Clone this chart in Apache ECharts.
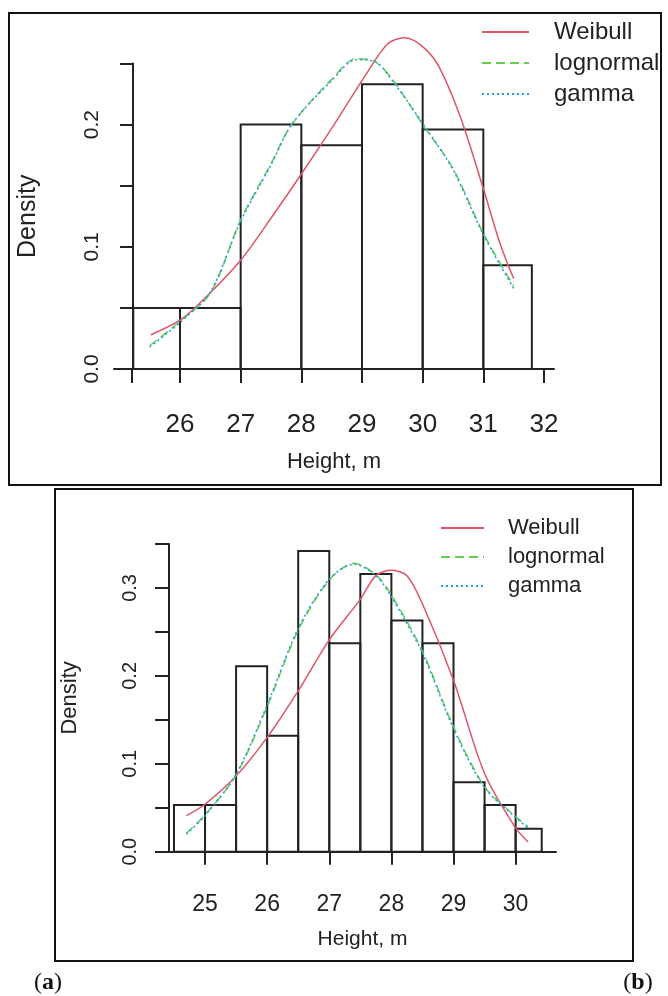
<!DOCTYPE html>
<html>
<head>
<meta charset="utf-8">
<script src="https://cdn.jsdelivr.net/npm/echarts@6/dist/echarts.min.js"></script>
<style>
  html, body { margin: 0; padding: 0; background: #fff; }
  #chart { width: 668px; height: 996px; }
</style>
</head>
<body>
<div id="chart"></div>
<script>
// ---- panel (a) data ----
const breaksA = [25.23, 26, 27, 28, 29, 30, 31, 31.8];
const densA = [0.05, 0.05, 0.2, 0.183, 0.233, 0.196, 0.085];
const xTicksA = [25.2, 26, 27, 28, 29, 30, 31, 32];
const xLabelsA = [26, 27, 28, 29, 30, 31, 32];

const weibullXA = [25.52, 26.0, 26.35, 27.0, 27.55, 28.02, 28.54, 29.04, 29.42, 29.7, 29.97, 30.25, 30.63, 31.01, 31.26, 31.5];
const weibullYA = [0.028, 0.04, 0.055, 0.089, 0.127, 0.161, 0.2, 0.239, 0.266, 0.271, 0.265, 0.249, 0.205, 0.146, 0.105, 0.074];
const lognormXA = [25.5, 26, 26.5, 27, 27.5, 27.84, 28.5, 28.9, 29.2, 29.5, 30, 30.5, 31, 31.5];
const lognormYA = [0.019, 0.039, 0.062, 0.122, 0.168, 0.2, 0.237, 0.254, 0.252, 0.237, 0.2, 0.164, 0.111, 0.068];
const gammaYA   = [0.018, 0.038, 0.063, 0.121, 0.167, 0.2, 0.236, 0.253, 0.252, 0.236, 0.201, 0.163, 0.11, 0.066];

// ---- panel (b) data ----
const breaksB = [24.5, 25, 25.5, 26, 26.5, 27, 27.5, 28, 28.5, 29, 29.5, 30, 30.42];
const densB = [0.053, 0.053, 0.211, 0.132, 0.342, 0.237, 0.316, 0.263, 0.237, 0.079, 0.053, 0.026];
const xLabelsB = [25, 26, 27, 28, 29, 30];

const weibullXB = [24.7, 25, 25.5, 26, 26.5, 27, 27.5, 27.75, 28, 28.25, 28.5, 29, 29.5, 30, 30.2];
const weibullYB = [0.041, 0.054, 0.086, 0.13, 0.183, 0.241, 0.287, 0.314, 0.32, 0.314, 0.282, 0.195, 0.089, 0.027, 0.011];
const lognormXB = [24.7, 25, 25.5, 26, 26.5, 27, 27.4, 27.75, 28, 28.5, 29, 29.5, 30, 30.2];
const lognormYB = [0.021, 0.042, 0.087, 0.165, 0.252, 0.309, 0.328, 0.315, 0.292, 0.228, 0.142, 0.074, 0.04, 0.028];
const gammaYB   = [0.02, 0.041, 0.088, 0.167, 0.254, 0.31, 0.327, 0.314, 0.29, 0.226, 0.14, 0.073, 0.039, 0.027];

const names = ['Weibull', 'lognormal', 'gamma'];
const colors = ['#DF536B', '#61D04F', '#2297E6'];
const dashes = ['solid', [9, 5], [2, 3]];
const FONT = 'Liberation Sans, Arial, sans-serif';
const INK = '#222';

const zip = (xs, ys) => xs.map((x, i) => [x, ys[i]]);

function histSeries(breaks, dens, idx) {
  return {
    type: 'custom',
    xAxisIndex: idx,
    yAxisIndex: idx,
    clip: false,
    z: 2,
    data: dens.map((d, i) => [breaks[i], breaks[i + 1], d]),
    encode: { x: [0, 1], y: 2 },
    renderItem: function (params, api) {
      const p0 = api.coord([api.value(0), 0]);
      const p1 = api.coord([api.value(1), api.value(2)]);
      return {
        type: 'rect',
        shape: { x: p0[0], y: p1[1], width: p1[0] - p0[0], height: p0[1] - p1[1] },
        style: { fill: 'none', stroke: INK, lineWidth: 2 }
      };
    }
  };
}

function curve(k, xs, ys, idx) {
  return {
    type: 'line',
    name: names[k],
    xAxisIndex: idx,
    yAxisIndex: idx,
    data: zip(xs, ys),
    smooth: 0.3,
    symbol: 'none',
    clip: false,
    z: 5,
    color: colors[k],
    lineStyle: { color: colors[k], width: 1.5, type: dashes[k] }
  };
}

function yLabel(v) {
  const t = Math.round(v * 100);
  return t % 10 === 0 ? (t / 100).toFixed(1) : '';
}

const axisLine = { show: true, lineStyle: { color: INK, width: 2 } };

const chart = echarts.init(document.getElementById('chart'));
chart.setOption({
  animation: false,
  backgroundColor: '#fff',
  textStyle: { fontFamily: FONT },
  grid: [
    { left: 114, top: 63.5, width: 440, height: 305.5, outerBoundsMode: 'none' },
    { left: 169, top: 544, width: 387, height: 307.7, outerBoundsMode: 'none' }
  ],
  xAxis: [
    {
      type: 'value', gridIndex: 0, min: 24.912, max: 32.165, offset: 15,
      axisLine: axisLine,
      axisTick: { show: true, customValues: xTicksA, length: 14, lineStyle: { color: INK, width: 2 } },
      axisLabel: { customValues: xLabelsA, fontSize: 26, color: INK, margin: 28, fontFamily: FONT },
      splitLine: { show: false },
      name: 'Height, m', nameLocation: 'middle', nameGap: 67,
      nameTextStyle: { fontSize: 22, color: INK, fontFamily: FONT }
    },
    {
      type: 'value', gridIndex: 1, min: 24.42, max: 30.65, offset: 13,
      axisLine: axisLine,
      axisTick: { show: true, customValues: xLabelsB, length: 13, lineStyle: { color: INK, width: 2 } },
      axisLabel: { customValues: xLabelsB, fontSize: 23, color: INK, margin: 28, fontFamily: FONT },
      splitLine: { show: false },
      name: 'Height, m', nameLocation: 'middle', nameGap: 64,
      nameTextStyle: { fontSize: 21, color: INK, fontFamily: FONT }
    }
  ],
  yAxis: [
    {
      type: 'value', gridIndex: 0, min: 0, max: 0.25, interval: 0.05, offset: -19,
      axisLine: axisLine,
      axisTick: { show: true, length: 13, lineStyle: { color: INK, width: 2 } },
      axisLabel: { rotate: 90, fontSize: 21, color: INK, margin: 30, formatter: yLabel, fontFamily: FONT },
      splitLine: { show: false },
      name: 'Density', nameLocation: 'middle', nameGap: 92, nameRotate: 90,
      nameTextStyle: { fontSize: 25, color: INK, fontFamily: FONT }
    },
    {
      type: 'value', gridIndex: 1, min: 0, max: 0.35, interval: 0.05,
      axisLine: axisLine,
      axisTick: { show: true, length: 14, lineStyle: { color: INK, width: 2 } },
      axisLabel: { rotate: 90, fontSize: 20, color: INK, margin: 29, formatter: yLabel, fontFamily: FONT },
      splitLine: { show: false },
      name: 'Density', nameLocation: 'middle', nameGap: 88, nameRotate: 90,
      nameTextStyle: { fontSize: 22, color: INK, fontFamily: FONT }
    }
  ],
  legend: [
    {
      data: names, left: 481, top: 18.5, padding: 0, orient: 'vertical', selectedMode: false,
      itemWidth: 47, itemHeight: 14, itemGap: 4,
      itemStyle: { opacity: 0 },
      textStyle: { fontSize: 24, lineHeight: 27, color: INK, padding: [0, 0, 0, 20], fontFamily: FONT }
    },
    {
      data: names, left: 440, top: 515.5, padding: 0, orient: 'vertical', selectedMode: false,
      itemWidth: 43, itemHeight: 14, itemGap: 4,
      itemStyle: { opacity: 0 },
      textStyle: { fontSize: 22, lineHeight: 25, color: INK, padding: [0, 0, 0, 19], fontFamily: FONT }
    }
  ],
  graphic: [
    { type: 'rect', shape: { x: 9, y: 13, width: 652, height: 472 }, style: { fill: 'none', stroke: '#111', lineWidth: 2 } },
    { type: 'rect', shape: { x: 55, y: 489, width: 578, height: 472 }, style: { fill: 'none', stroke: '#111', lineWidth: 2 } },
    {
      type: 'text', x: 48, y: 983,
      style: { text: '({b|a})', fill: '#111', font: '24px Liberation Serif, serif', align: 'center', verticalAlign: 'middle',
               rich: { b: { fontWeight: 'bold', fontSize: 24, fontFamily: 'Liberation Serif, serif' } } }
    },
    {
      type: 'text', x: 638, y: 983,
      style: { text: '({b|b})', fill: '#111', font: '24px Liberation Serif, serif', align: 'center', verticalAlign: 'middle',
               rich: { b: { fontWeight: 'bold', fontSize: 24, fontFamily: 'Liberation Serif, serif' } } }
    }
  ],
  series: [
    histSeries(breaksA, densA, 0),
    curve(0, weibullXA, weibullYA, 0),
    curve(1, lognormXA, lognormYA, 0),
    curve(2, lognormXA, gammaYA, 0),
    histSeries(breaksB, densB, 1),
    curve(0, weibullXB, weibullYB, 1),
    curve(1, lognormXB, lognormYB, 1),
    curve(2, lognormXB, gammaYB, 1)
  ]
});
</script>
</body>
</html>
